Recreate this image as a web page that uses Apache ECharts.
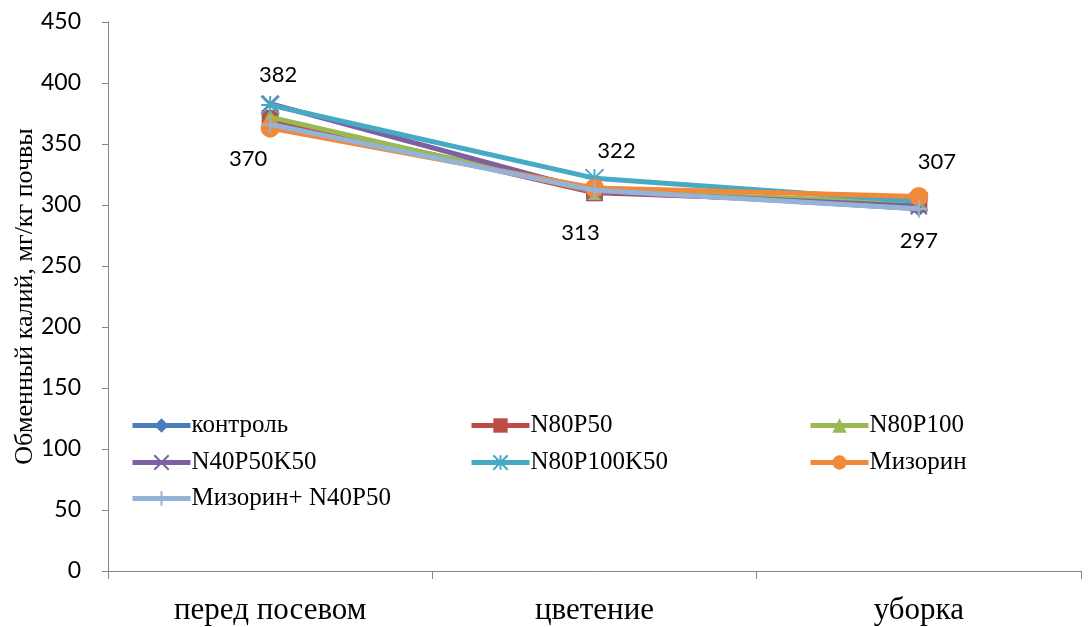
<!DOCTYPE html>
<html><head><meta charset="utf-8">
<script src="https://cdn.jsdelivr.net/npm/echarts@6/dist/echarts.min.js"></script>
<style>html,body{margin:0;padding:0;background:#fff}#c{width:1091px;height:627px}</style>
</head><body><div id="c"></div>
<script>
const categories = ['перед посевом', 'цветение', 'уборка'];
const seriesNames = ['контроль', 'N80P50', 'N80P100', 'N40P50K50', 'N80P100K50', 'Мизорин', 'Мизорин+ N40P50'];
const kontrol = [370, 313, 297];
const n80p50 = [371, 310, 301];
const n80p100 = [372, 311, 302];
const n40p50k50 = [383, 311, 299];
const n80p100k50 = [382, 322, 303];
const mizorin = [363, 314, 307];
const mizorinN40P50 = [366, 312, 297];
const yTicks = [0, 50, 100, 150, 200, 250, 300, 350, 400, 450];

const values = [kontrol, n80p50, n80p100, n40p50k50, n80p100k50, mizorin, mizorinN40P50];
const colors = ['#4A7EBB', '#BE4B48', '#98B954', '#7D60A0', '#46AAC5', '#F08A3A', '#95B3D7'];
const symbols = ['diamond', 'rect', 'triangle',
  'path://M0,0L10,10M10,0L0,10',
  'path://M0,0L10,10M10,0L0,10M5,0L5,10M0,5L10,5',
  'circle',
  'path://M5,0L5,10M0,5L10,5'];
const sizes = [16, 17, 17, 16, 18, 19, 18];
const isPath = s => s.startsWith('path://');

const labelAbove = {4: [0, 1], 5: [2]};
const labelFont = {color: '#000', fontFamily: 'Lato, "Open Sans", sans-serif', fontSize: 22};

const series = seriesNames.map((n, i) => ({
  name: n, type: 'line', data: values[i],
  symbol: symbols[i], symbolSize: sizes[i],
  lineStyle: {width: 5, color: colors[i]},
  itemStyle: isPath(symbols[i]) ? {color: colors[i], borderColor: colors[i], borderWidth: 2} : {color: colors[i]},
  z: 2 + i,
  label: Object.assign({
    show: i === 0 || !!labelAbove[i],
    position: i === 0 ? 'bottom' : 'top',
    distance: 12,
    formatter: p => (i === 0 || labelAbove[i].includes(p.dataIndex)) ? String(p.value) : ''
  }, labelFont)
}));
series[4].data = n80p100k50.map((v, k) => ({value: v, label: {offset: k === 0 ? [8, 3] : [22, 6]}}));
series[5].data = mizorin.map((v, k) => ({value: v, label: {offset: [18, -2]}}));
series[0].data = kontrol.map((v, k) => ({value: v, label: {offset: k === 0 ? [-22, 0] : (k === 1 ? [-14, 0] : [0, 0]), distance: k === 0 ? 20 : (k === 1 ? 25 : 13)}}));

const legendCols = [130, 469, 808];
const legendRows = [413, 450, 486];
const legends = seriesNames.map((n, i) => ({
  data: [n],
  left: legendCols[i % 3], top: legendRows[Math.floor(i / 3)],
  padding: 0,
  itemWidth: 58, itemHeight: 18, itemGap: 0,
  lineStyle: {width: 5},
  textStyle: {fontFamily: '"Liberation Serif", serif', fontSize: 25, color: '#000', padding: [0, 0, 0, -4]}
}));

const chart = echarts.init(document.getElementById('c'));
chart.setOption({
  animation: false,
  legend: legends,
  grid: {left: 108, right: 10, top: 22, bottom: 56, containLabel: false, outerBoundsMode: 'none'},
  xAxis: {
    type: 'category', data: categories, boundaryGap: true,
    axisLine: {lineStyle: {color: '#868686', width: 1}},
    axisTick: {show: true, length: 8, lineStyle: {color: '#868686'}},
    axisLabel: {fontFamily: '"Liberation Serif", serif', fontSize: 31, color: '#000', margin: 24}
  },
  yAxis: {
    type: 'value', min: yTicks[0], max: yTicks[yTicks.length - 1], interval: 50,
    name: 'Обменный калий, мг/кг почвы', nameLocation: 'middle', nameGap: 70,
    nameMoveOverlap: false,
    nameTextStyle: {fontFamily: '"Liberation Serif", serif', fontSize: 26, color: '#000'},
    axisLine: {show: true, lineStyle: {color: '#868686', width: 1}},
    axisTick: {show: true, length: 6, lineStyle: {color: '#868686'}},
    splitLine: {show: false},
    axisLabel: {fontFamily: 'Lato, "Open Sans", sans-serif', fontSize: 23, color: '#000', margin: 27}
  },
  series
});
</script>
</body></html>
